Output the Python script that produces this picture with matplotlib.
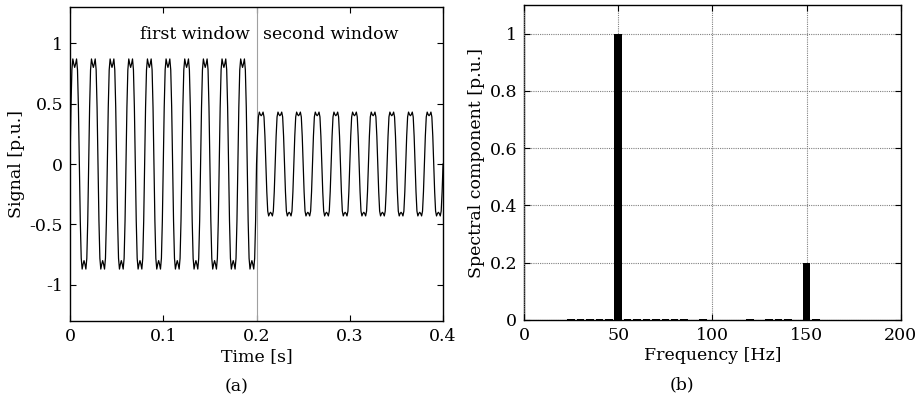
import matplotlib
matplotlib.use('Agg')
import matplotlib.pyplot as plt
import numpy as np

# One cycle of the 50 Hz signal (1 ms samples)
cycle_first = [0.00, 0.47, 0.78, 0.87, 0.83, 0.80, 0.83, 0.87, 0.78, 0.47,
               0.00, -0.47, -0.78, -0.87, -0.83, -0.80, -0.83, -0.87, -0.78, -0.47]
cycle_second = [0.00, 0.23, 0.39, 0.43, 0.41, 0.40, 0.41, 0.43, 0.39, 0.23,
                0.00, -0.23, -0.39, -0.43, -0.41, -0.40, -0.41, -0.43, -0.39, -0.23]
cycles_per_window = 10
sample_period = 0.001
window_edge = 0.2

# Spectrum, panel (b)
freqs = [25, 30, 35, 40, 45, 50, 55, 60, 65, 70, 75, 80, 85, 95,
         120, 130, 135, 140, 150, 155]
spectrum = [0.005, 0.005, 0.005, 0.005, 0.005, 1.0, 0.005, 0.005, 0.005, 0.005,
            0.005, 0.005, 0.005, 0.005, 0.005, 0.005, 0.005, 0.005, 0.2, 0.005]

plt.rcParams['font.family'] = 'DejaVu Serif'
plt.rcParams['font.size'] = 12.5
plt.rcParams['axes.unicode_minus'] = False
plt.rcParams['axes.linewidth'] = 1.0

signal = np.concatenate([np.tile(cycle_first, cycles_per_window),
                         np.tile(cycle_second, cycles_per_window), [0.0]])
t = np.arange(len(signal)) * sample_period

fig = plt.figure(figsize=(9.19, 4.01), dpi=100)
ax1 = fig.add_axes([0.0762, 0.1995, 0.4059, 0.783])
ax2 = fig.add_axes([0.5702, 0.202, 0.410, 0.7855])

# (a) time signal
ax1.plot([window_edge, window_edge], [-1.3, 1.3], color='#a0a0a0', linewidth=0.8)
ax1.plot(t, signal, color='black', linewidth=0.9)
ax1.set_xlim(0, 0.4)
ax1.set_ylim(-1.3, 1.3)
ax1.set_xticks([0, 0.1, 0.2, 0.3, 0.4])
ax1.set_xticklabels(['0', '0.1', '0.2', '0.3', '0.4'])
ax1.set_yticks([-1, -0.5, 0, 0.5, 1])
ax1.set_yticklabels(['-1', '-0.5', '0', '0.5', '1'])
ax1.set_xlabel('Time [s]', labelpad=2)
ax1.set_ylabel('Signal [p.u.]', labelpad=3)
ax1.text(window_edge - 0.007, 1.07, 'first window', ha='right', va='center')
ax1.text(window_edge + 0.007, 1.07, 'second window', ha='left', va='center')

# (b) spectrum
ax2.bar(freqs, spectrum, width=4, color='black', zorder=3)
ax2.set_xlim(0, 200)
ax2.set_ylim(0, 1.1)
ax2.set_xticks([0, 50, 100, 150, 200])
ax2.set_yticks([0, 0.2, 0.4, 0.6, 0.8, 1])
ax2.set_yticklabels(['0', '0.2', '0.4', '0.6', '0.8', '1'])
ax2.set_xlabel('Frequency [Hz]', labelpad=2)
ax2.set_ylabel('Spectral component [p.u.]', labelpad=3)
ax2.grid(True, color='#808080', linestyle=(0, (1, 1)), linewidth=0.8, zorder=4)
ax2.set_axisbelow(False)

for ax in (ax1, ax2):
    ax.tick_params(direction='in', top=True, right=True, length=4, width=0.8,
                   pad=5, colors='black')

fig.text(237 / 919, 1 - 387 / 401, '(a)', ha='center', va='center')
fig.text(682 / 919, 1 - 385 / 401, '(b)', ha='center', va='center')

fig.savefig('out.png', dpi=100)
